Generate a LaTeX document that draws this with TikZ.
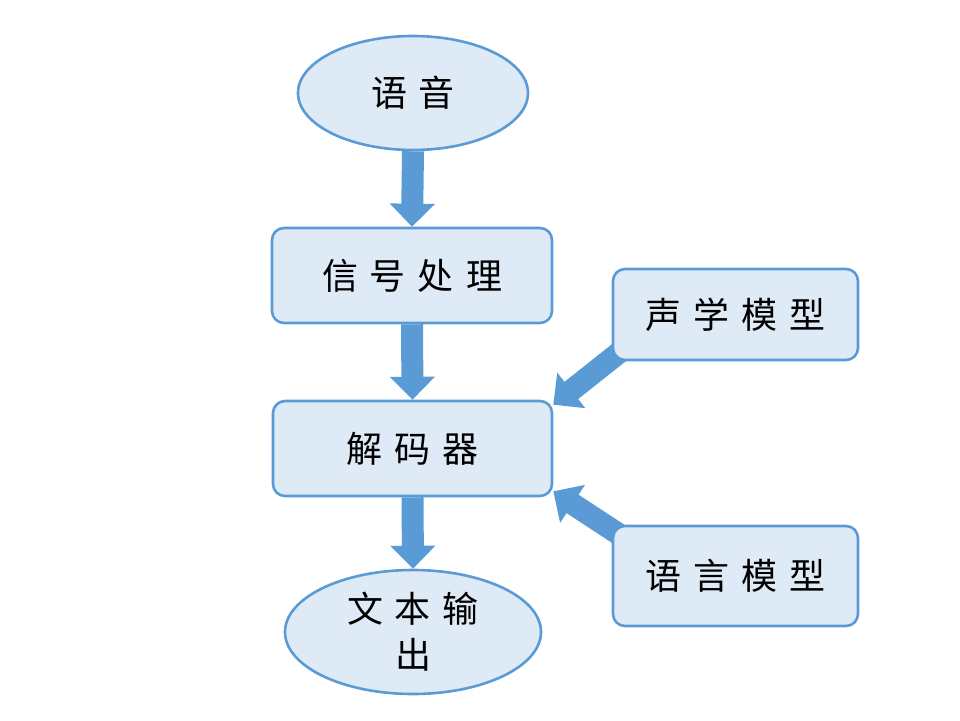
\documentclass[tikz,border=0pt]{standalone}
\usepackage{fontspec}
\newfontfamily\cjk{Noto Sans CJK SC}
\usetikzlibrary{arrows.meta,shapes.geometric,backgrounds,calc}
\definecolor{bordblue}{HTML}{5B9BD5}
\definecolor{fillblue}{HTML}{DEEAF6}
\newcommand{\gp}{\hspace{12pt}}
\begin{document}
\begin{tikzpicture}[x=1pt,y=-1pt,
  base/.style={draw=bordblue, line width=2.6pt, fill=fillblue, inner sep=0pt,
    font=\cjk\fontsize{36}{46}\selectfont, text=black, align=center},
  ell/.style={base, ellipse},
  rbox/.style={base, rectangle, rounded corners=12pt},
  bigarrow/.style={draw=bordblue, line width=22pt,
    -{Triangle[width=44pt,length=23pt]}, fill=bordblue}]
\useasboundingbox (0,0) rectangle (960,720);
\node[ell, minimum width=230pt, minimum height=114pt] (voice) at (413,93) {语\gp 音};
\node[rbox, minimum width=280pt, minimum height=95pt] (sig) at (412,275.5) {信\gp 号\gp 处\gp 理};
\node[rbox, minimum width=279pt, minimum height=95pt] (dec) at (412.5,448.5) {解\gp 码\gp 器};
\node[ell, minimum width=256pt, minimum height=124pt] (out) at (413,632) {文\gp 本\gp 输\\出};
\node[rbox, minimum width=245pt, minimum height=91pt] (ac) at (735.5,314.5) {声\gp 学\gp 模\gp 型};
\node[rbox, minimum width=245pt, minimum height=100pt] (lm) at (735.5,576) {语\gp 言\gp 模\gp 型};
\begin{pgfonlayer}{background}
\draw[bigarrow] (voice.south) -- (sig.north);
\draw[bigarrow] (sig.south) -- (dec.north);
\draw[bigarrow] (dec.south) -- (out.north);
\draw[bigarrow] ($(ac.south west)+(14,-14)$) -- ($(dec.north east)+(0,5)$);
\draw[bigarrow] ($(lm.north west)+(14,14)$) -- ($(dec.south east)+(0,-6)$);
\end{pgfonlayer}
\end{tikzpicture}
\end{document}
